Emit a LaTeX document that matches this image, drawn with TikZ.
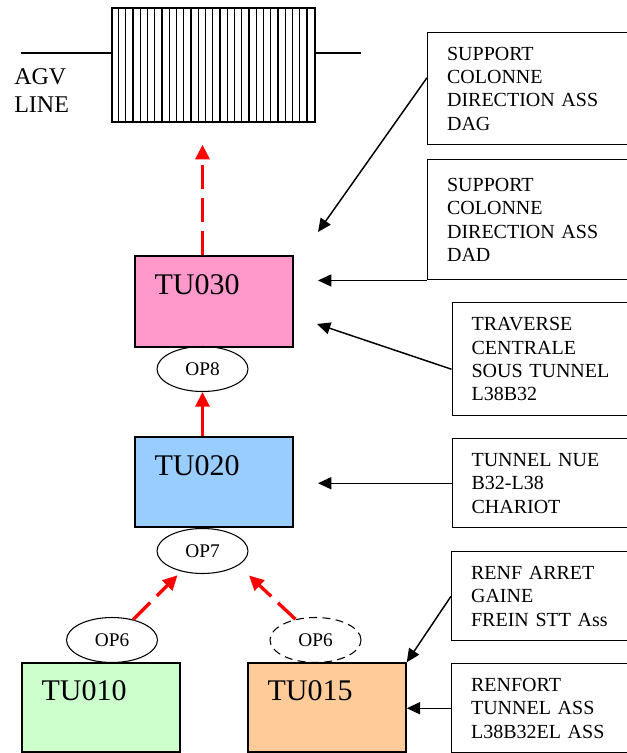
\documentclass[tikz,border=0pt]{standalone}
\usepackage{fontspec}
\setmainfont{Liberation Serif}
\usetikzlibrary{shapes.geometric,arrows.meta,calc}
\definecolor{rose}{RGB}{255,153,204}
\definecolor{bleu}{RGB}{153,204,255}
\definecolor{vert}{RGB}{204,255,204}
\definecolor{saumon}{RGB}{255,204,153}
\tikzset{
  tubox/.style={draw,line width=1.1pt,minimum width=118.5pt,inner sep=0pt},
  tulab/.style={anchor=west,inner sep=0pt,font=\fontsize{22.5}{27}\selectfont},
  opnode/.style={draw,ellipse,line width=0.8pt,minimum width=68.25pt,minimum height=33.75pt,inner sep=0pt,font=\fontsize{14.5}{16}\selectfont},
  piece/.style={draw,line width=1.1pt,anchor=north west,text width=160pt,inner xsep=14.5pt,inner ysep=0pt,align=left,font=\fontsize{15}{17.5}\selectfont},
  fleche/.style={-{Triangle[length=10pt,width=9pt]},line width=1.1pt},
  flux/.style={-{Triangle[length=11pt,width=10.5pt]},red,line width=2.5pt},
  fluxpt/.style={flux,dash pattern=on 18pt off 7pt}
}
\begin{document}
\begin{tikzpicture}[x=0.75pt,y=-0.75pt]
\useasboundingbox (0,0) rectangle (627,753);
% ligne AGV
\node[draw,line width=1.1pt,minimum width=152.25pt,minimum height=85.5pt,inner sep=0pt] (agv) at (213.5,65) {};
\foreach \i in {1,...,27}
  \draw[line width=0.8pt] ($(agv.north west)+(\i*7.25,0)$) -- ($(agv.south west)+(\i*7.25,0)$);
\coordinate (agvG) at (21,53);
\coordinate (agvD) at (361,53);
\draw[line width=1.1pt] (agvG) -- (agvG -| agv.west);
\draw[line width=1.1pt] (agvD -| agv.east) -- (agvD);
\node[anchor=west,align=left,inner sep=0pt,font=\fontsize{18}{21}\selectfont] (agvtxt) at (14,91) {AGV\\LINE};
% postes
\node[tubox,fill=rose,minimum height=68.25pt] (tu030) at (214,301.5) {};
\node[tulab] (tu030lab) at ($(tu030.north west)+(20,29)$) {TU030};
\node[tubox,fill=bleu,minimum height=67.5pt] (tu020) at (214,482) {};
\node[tulab] (tu020lab) at ($(tu020.north west)+(20,29)$) {TU020};
\node[tubox,fill=vert,minimum height=66.75pt] (tu010) at (101,707.5) {};
\node[tulab] (tu010lab) at ($(tu010.north west)+(20,28)$) {TU010};
\node[tubox,fill=saumon,minimum height=66.75pt] (tu015) at (327,707.5) {};
\node[tulab] (tu015lab) at ($(tu015.north west)+(20,28)$) {TU015};
% operations
\node[opnode] (op8) at (202.5,369) {OP8};
\node[opnode] (op7) at (202.5,551) {OP7};
\node[opnode] (op6) at (112,640) {OP6};
\node[opnode,dash pattern=on 6pt off 4pt] (op6b) at (315.5,640) {OP6};
\draw[fluxpt,shorten >=16.5pt] (tu030.north -| op8.south) -- (agv.south -| op8.south);
\draw[flux] (tu020.north -| op8.south) -- (op8.south);
\draw[fluxpt,shorten >=4pt] (op6.44) -- (op7.224);
\draw[fluxpt,shorten >=11pt] (op6b.134) -- (op7.-22);
% pieces
\node[piece,minimum height=84pt] (dag) at (427,32) {SUPPORT\\COLONNE\\DIRECTION ASS\\DAG};
\node[piece,minimum height=90pt] (dad) at (427,159) {SUPPORT\\COLONNE\\DIRECTION ASS\\DAD};
\node[piece,minimum height=84.75pt] (trav) at (451.5,302) {TRAVERSE\\CENTRALE\\SOUS TUNNEL\\L38B32};
\node[piece,minimum height=66.75pt] (tunnue) at (451.5,438) {TUNNEL NUE\\B32-L38\\CHARIOT};
\node[piece,minimum height=66.75pt] (renfarret) at (451,551) {RENF ARRET\\GAINE\\FREIN STT Ass};
\node[piece,minimum height=66.75pt] (renfort) at (451,663) {RENFORT\\TUNNEL ASS\\L38B32EL ASS};
\coordinate (c1) at (318,232);
\coordinate (c3) at (317,324);
\coordinate (cx) at (318,0);
\draw[fleche] ($(dag.west)+(0,-11)$) -- (c1);
\draw[fleche] (dad.south west) -- (dad.south west -| cx);
\draw[fleche] ($(trav.west)+(0,10)$) -- (c3);
\draw[fleche] (tunnue.west) -- (tunnue.west -| cx);
\draw[fleche] (renfarret.west) -- (tu015.north east);
\draw[fleche] (renfort.west) -- (renfort.west -| tu015.east);
\end{tikzpicture}
\end{document}
